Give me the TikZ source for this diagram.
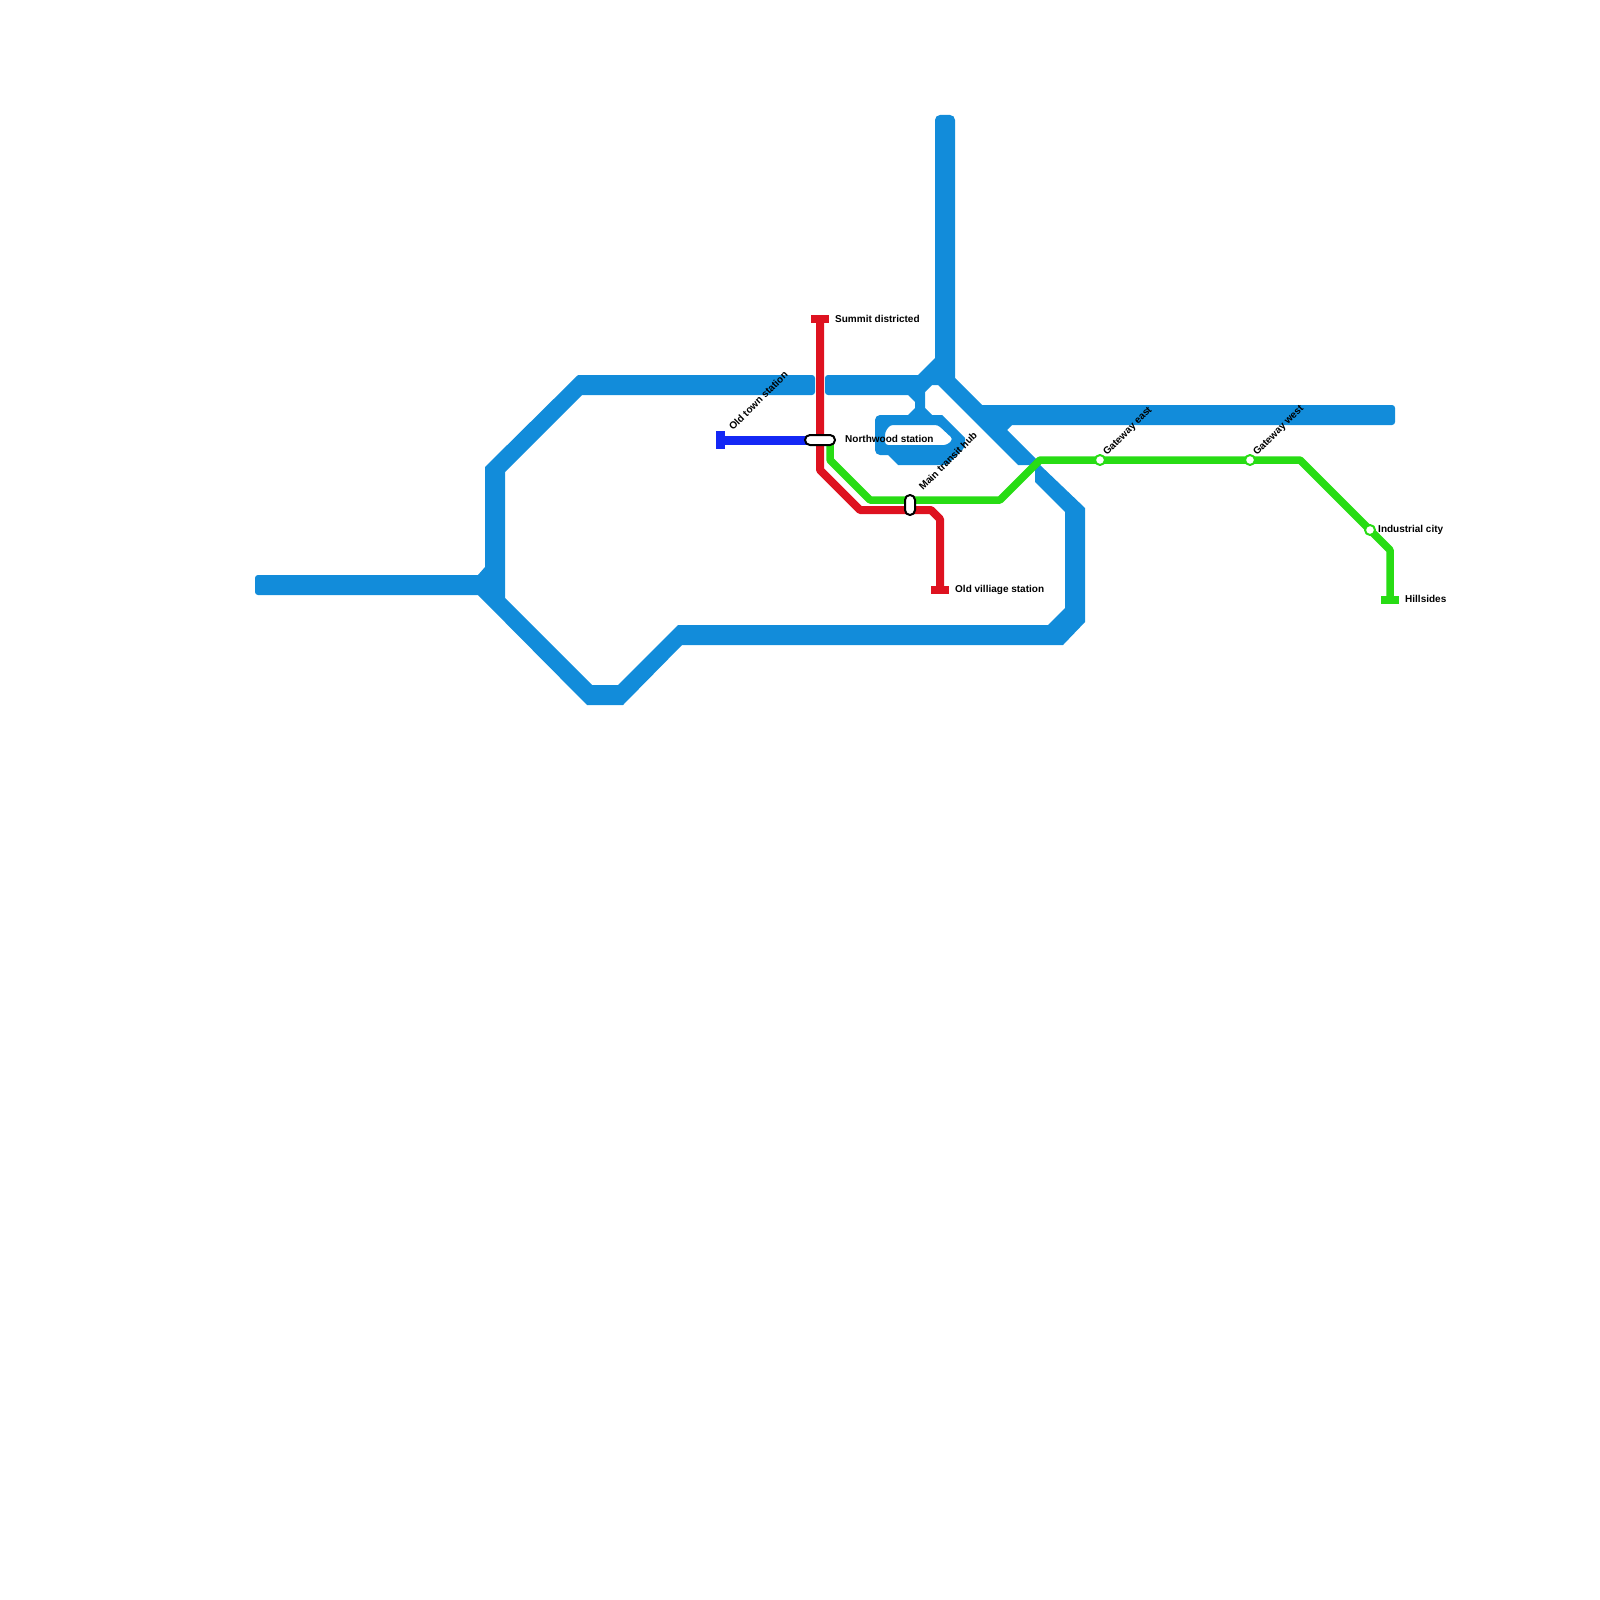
\documentclass[tikz,border=0pt]{standalone}
\usepackage{fontspec}
\setmainfont{Liberation Sans}
\usepackage{xcolor}
\definecolor{trunkblue}{RGB}{18,140,218}
\definecolor{linered}{RGB}{222,18,32}
\definecolor{linegreen}{RGB}{40,220,20}
\definecolor{linedark}{RGB}{20,40,245}
\tikzset{
  metroline/.style={line width=#1,line join=round},
  terminal/.style={rectangle,fill=#1,inner sep=0pt},
  hubstop/.style={draw=black,line width=2pt,fill=white,rounded corners=4.9pt,inner sep=0pt},
  ringstop/.style={circle,draw=linegreen,line width=2pt,fill=white,inner sep=0pt,minimum size=10pt},
  stoplabel/.style={font=\fontsize{10}{12}\selectfont\bfseries,inner sep=0pt,anchor=base west},
}
\begin{document}
\begin{tikzpicture}[x=1pt,y=-1pt,line join=round]
  \useasboundingbox (0,0) rectangle (1600,1600);
  % broad blue band, west part
  \fill[trunkblue] [rounded corners=3pt] (255,575) [sharp corners] -- (478,575) -- (485,567) -- (485,467) -- (578,375)
    [rounded corners=3pt] -- (815,375) -- (815,395) [sharp corners] -- (582,395) -- (505,472) -- (505,598) -- (592,685) -- (618,685)
    -- (678,625) -- (1048,625) -- (1065,608) -- (1065,512) -- (1035,482) -- (1035,465) -- (1040,465) -- (1085,508) -- (1085,622)
    -- (1063,645) -- (682,645) -- (623,705) -- (587,705) -- (478,595) [rounded corners=3pt] -- (255,595) -- cycle;
  % broad blue band, east part with its loop
  \fill[trunkblue,even odd rule] [rounded corners=3pt] (825,375) [sharp corners] -- (918,375) -- (935,358)
    [rounded corners=5pt] -- (935,115) -- (955,115) [sharp corners] -- (955,378) -- (982,405)
    [rounded corners=3pt] -- (1395,405) -- (1395,425) [sharp corners] -- (1012,425) -- (1007,430) -- (1036,459) -- (1036,465) -- (1018,465)
    -- (938,385) -- (932,385) -- (925,392) -- (925,408) -- (932,415) -- (942,415) -- (965,438)
    [rounded corners=3pt] -- (965,447) -- (947,465) [sharp corners] -- (898,465) -- (888,455)
    [rounded corners=5pt] -- (875,455) -- (875,415) [sharp corners] -- (908,415) -- (915,408) -- (915,402) -- (908,395)
    [rounded corners=3pt] -- (825,395) -- cycle
    (890,425) -- (938,425) -- (953,439) -- (947,445) -- (885,445) -- (885,432) -- cycle;
  % stops
  \coordinate (summit) at (820,319); \coordinate (oldvillage) at (940,590);
  \coordinate (oldtown) at (720,440); \coordinate (northwood) at (820,440);
  \coordinate (mainhub) at (910,505); \coordinate (gateeast) at (1100,460);
  \coordinate (gatewest) at (1250,460); \coordinate (industrial) at (1370,530);
  \coordinate (hillsides) at (1390,600);
  \draw[metroline=9pt,linedark] (oldtown) -- (northwood);
  \draw[metroline=8pt,linered] (summit) -- (820,470) -- (860,510) -- (931,510) -- (940,519) -- (oldvillage);
  \draw[metroline=7.5pt,linegreen] (830,440) -- (830,460) -- (870,500) -- (1000,500) -- (1040,460) -- (gateeast) -- (gatewest)
    -- (1300,460) -- (industrial) -- (1390,550) -- (hillsides);
  \node[terminal=linered,minimum width=18pt,minimum height=8pt] (summitend) at (summit) {};
  \node[terminal=linered,minimum width=18pt,minimum height=8pt] (oldvillageend) at (oldvillage) {};
  \node[terminal=linedark,minimum width=9pt,minimum height=18pt] (oldtownend) at (oldtown) {};
  \node[terminal=linegreen,minimum width=18pt,minimum height=8pt] (hillsidesend) at (hillsides) {};
  \node[hubstop,minimum width=30pt,minimum height=10pt] (northwoodstop) at (northwood) {};
  \node[hubstop,minimum width=10pt,minimum height=20pt] (mainhubstop) at (mainhub) {};
  \foreach \stopname in {gateeast,gatewest,industrial}
    \node[ringstop] (\stopname stop) at (\stopname) {};
  % labels
  \node[stoplabel] (summitlabel) at (835,322.5) {Summit districted};
  \node[stoplabel] (northwoodlabel) at (845,442.5) {Northwood station};
  \node[stoplabel] (oldvillagelabel) at (955,592.5) {Old villiage station};
  \node[stoplabel] (hillsideslabel) at (1405,602.5) {Hillsides};
  \node[stoplabel] (industriallabel) at (1378,532.5) {Industrial city};
  \node[stoplabel,rotate=45] (oldtownlabel) at (733,431) {Old town station};
  \node[stoplabel,rotate=45] (mainhublabel) at (923,491) {Main transit hub};
  \node[stoplabel,rotate=45] (gateeastlabel) at (1107,456) {Gateway east};
  \node[stoplabel,rotate=45] (gatewestlabel) at (1257,456) {Gateway west};
\end{tikzpicture}
\end{document}
